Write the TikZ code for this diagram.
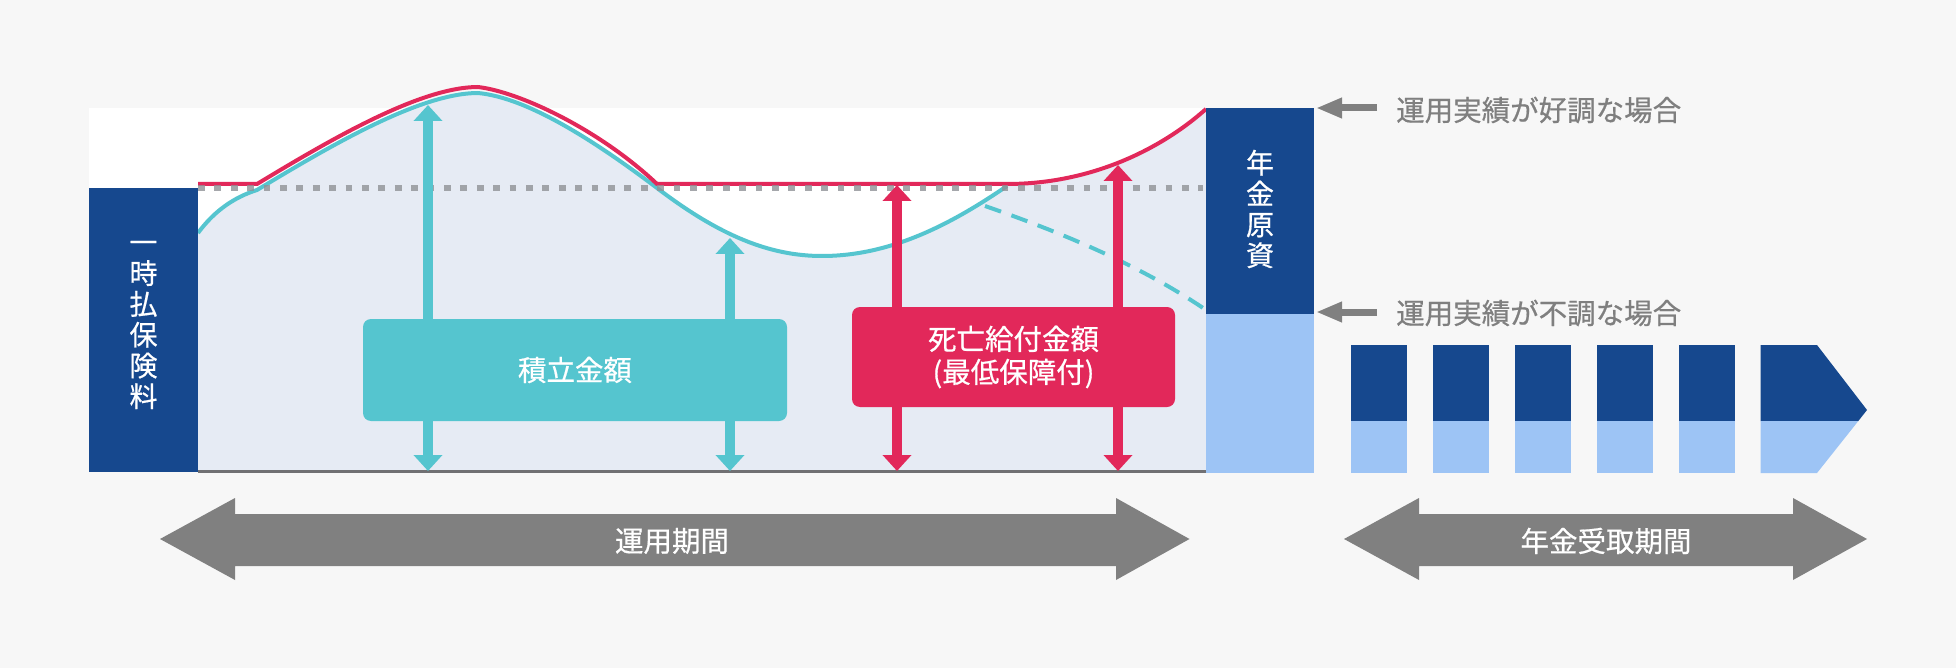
\documentclass[tikz,border=0pt]{standalone}
\usepackage{fontspec}
\newfontfamily\jp[FakeBold=0.6]{Noto Sans CJK JP}
\usetikzlibrary{arrows.meta}
\definecolor{bg}{HTML}{F7F7F7}
\definecolor{navy}{HTML}{16488E}
\definecolor{lblue}{HTML}{9DC4F5}
\definecolor{cteal}{HTML}{55C5CF}
\definecolor{cred}{HTML}{E2285A}
\definecolor{cfill}{HTML}{E6EBF4}
\definecolor{dotgray}{HTML}{8F9296}
\definecolor{agray}{HTML}{808080}
\definecolor{tgray}{HTML}{7F7F7F}
\definecolor{basegray}{HTML}{707073}
\begin{document}
\begin{tikzpicture}[x=1pt,y=-1pt,
  tealarrow/.style={draw=cteal,line width=10pt,{Triangle[length=16pt,width=28pt]}-{Triangle[length=16pt,width=28pt]}},
  redarrow/.style={draw=cred,line width=10pt,{Triangle[length=16pt,width=28pt]}-{Triangle[length=16pt,width=28pt]}},
  lblarrow/.style={draw=agray,line width=7pt,-{Triangle[length=26pt,width=19pt]}},
  jptext/.style={font=\jp\fontsize{28.5}{33}\selectfont,inner sep=0pt,align=center},
  vtext/.style={font=\jp\fontsize{28}{30.8}\selectfont,inner sep=0pt,align=center,text=white},
  boxstyle/.style={rounded corners=8pt,inner sep=0pt,text=white,font=\jp\fontsize{28.5}{33}\selectfont,align=center},
  curve/.style={line width=4pt,line join=round}
]
\useasboundingbox (0,0) rectangle (1956,668);
\fill[bg] (0,0) rectangle (1956,668);
% plot area
\fill[white] (89,108) rectangle (1206,472);
\fill[cfill] (198,472) -- (198,233) .. controls (215,210) and (235,197) .. (257,190)
  .. controls (330,146) and (420,93) .. (478,93)
  .. controls (530,98) and (600,145) .. (657,188)
  .. controls (720,236) and (770,256) .. (822,256)
  .. controls (890,256) and (950,225) .. (1007,186)
  -- (1007,184) .. controls (1090,184) and (1160,150) .. (1206,109)
  -- (1206,472) -- cycle;
% base line
\draw[basegray,line width=3pt] (198,471.5) -- (1206,471.5);
% curves
\draw[cteal,curve] (198,233) .. controls (215,210) and (235,197) .. (257,190)
  .. controls (330,146) and (420,93) .. (478,93)
  .. controls (530,98) and (600,145) .. (657,188)
  .. controls (720,236) and (770,256) .. (822,256)
  .. controls (890,256) and (950,225) .. (1007,186);
\draw[cteal,line width=4pt,dash pattern=on 17pt off 11pt] (985,206) .. controls (1060,232) and (1140,265) .. (1206,310);
\draw[cred,curve] (198,184) -- (257,184) .. controls (330,140) and (420,87) .. (478,87)
  .. controls (520,92) and (600,130) .. (657,184) -- (1007,184)
  .. controls (1090,184) and (1160,150) .. (1206,109);
% dotted reference line
\draw[dotgray,opacity=.8,line width=6.7pt,dash pattern=on 6.7pt off 9.7pt] (198,188) -- (1203,188);
% bars
\fill[navy] (89,188) rectangle (198,472);
\node[vtext] (premtxt) at (143.5,325) {一\\時\\払\\保\\険\\料};
\fill[navy] (1206,108) rectangle (1314,314);
\fill[lblue] (1206,314) rectangle (1314,473);
\node[vtext] (nenkin) at (1260,209) {年\\金\\原\\資};
% double arrows
\coordinate (t1b) at (428,471); \coordinate (t1t) at (428,105);
\coordinate (t2b) at (730,471); \coordinate (t2t) at (730,238);
\coordinate (r1b) at (897,471); \coordinate (r1t) at (897,185);
\coordinate (r2b) at (1118,471); \coordinate (r2t) at (1118,165);
\draw[tealarrow] (t1b) -- (t1t);
\draw[tealarrow] (t2b) -- (t2t);
\draw[redarrow] (r1b) -- (r1t);
\draw[redarrow] (r2b) -- (r2t);
% boxes
\node[boxstyle,fill=cteal,minimum width=424pt,minimum height=102pt] (tsum) at (575,370) {積立金額};
\node[boxstyle,fill=cred,minimum width=323pt,minimum height=100pt] (death) at (1013.5,357) {死亡給付金額\\(最低保障付)};
% labels with arrows
\coordinate (g1s) at (1377,108); \coordinate (g1e) at (1316,108);
\coordinate (g2s) at (1377,312); \coordinate (g2e) at (1316,312);
\draw[lblarrow] (g1s) -- (g1e);
\draw[lblarrow] (g2s) -- (g2e);
\node[jptext,text=tgray,anchor=west] (good) at (1396,110) {運用実績が好調な場合};
\node[jptext,text=tgray,anchor=west] (bad) at (1396,313) {運用実績が不調な場合};
% payout blocks
\foreach \i in {0,...,4}{
  \fill[navy] (1350.5+82*\i,345) rectangle (1407+82*\i,421);
  \fill[lblue] (1350.5+82*\i,421) rectangle (1407+82*\i,473);
}
\fill[navy] (1760.5,345) -- (1817,345) -- (1867,410) -- (1858.3,421) -- (1760.5,421) -- cycle;
\fill[lblue] (1760.5,421) -- (1858.3,421) -- (1817,473) -- (1760.5,473) -- cycle;
% period arrows
\fill[agray] (160,539) -- (235,498) -- (235,514) -- (1116,514) -- (1116,498) -- (1189.5,539)
  -- (1116,580) -- (1116,566) -- (235,566) -- (235,580) -- cycle;
\node[jptext,text=white] (unyo) at (672,541) {運用期間};
\fill[agray] (1344,539) -- (1419,498) -- (1419,514) -- (1793,514) -- (1793,498) -- (1867,539)
  -- (1793,580) -- (1793,566) -- (1419,566) -- (1419,580) -- cycle;
\node[jptext,text=white] (uketori) at (1606,541) {年金受取期間};
\end{tikzpicture}
\end{document}
